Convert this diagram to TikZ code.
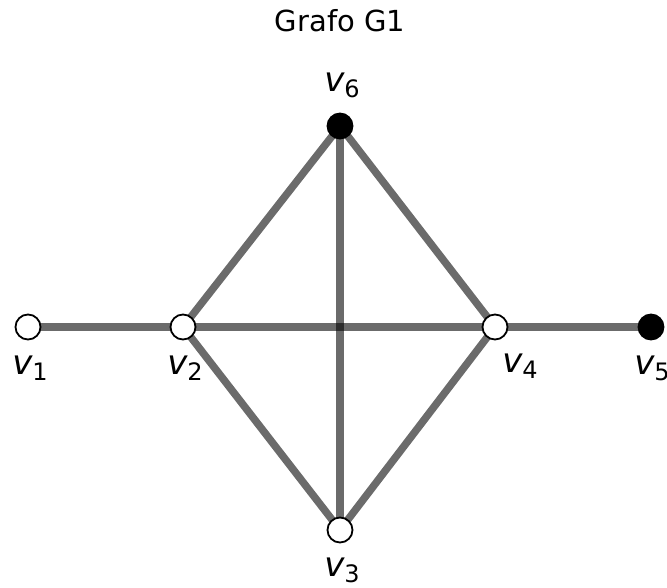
\documentclass[tikz,border=0pt]{standalone}
\usepackage{fontspec}
\setmainfont{DejaVu Sans}
\newcommand{\vlab}[1]{{\fontsize{34}{40}\selectfont\itshape v}\raisebox{-6pt}{\fontsize{24}{28}\selectfont #1}}
\begin{document}
\begin{tikzpicture}[x=1pt,y=-1pt,
  vert/.style={circle,draw=black,line width=1.8pt,minimum size=25pt,inner sep=0pt},
  wv/.style={vert,fill=white},
  bv/.style={vert,fill=black},
  edge/.style={draw=black,draw opacity=0.58,line width=7.5pt},
  lbl/.style={inner sep=0pt,anchor=center}]
\useasboundingbox (0,0) rectangle (667,588);
\node[lbl] (title) at (340,21) {\fontsize{29}{34}\selectfont Grafo G1};
\coordinate (p1) at (28,327);
\coordinate (p2) at (183,327);
\coordinate (p3) at (340,530);
\coordinate (p4) at (495,327);
\coordinate (p5) at (651,327);
\coordinate (p6) at (340,126);
\draw[edge] (p1) -- (p2);
\draw[edge] (p2) -- (p4);
\draw[edge] (p4) -- (p5);
\draw[edge] (p2) -- (p6);
\draw[edge] (p6) -- (p4);
\draw[edge] (p2) -- (p3);
\draw[edge] (p3) -- (p4);
\draw[edge] (p6) -- (p3);
\node[wv] (v1) at (p1) {};
\node[wv] (v2) at (p2) {};
\node[wv] (v3) at (p3) {};
\node[wv] (v4) at (p4) {};
\node[bv] (v5) at (p5) {};
\node[bv] (v6) at (p6) {};
\node[lbl] (l1) at (30,368) {\vlab{1}};
\node[lbl] (l2) at (185,368) {\vlab{2}};
\node[lbl] (l3) at (342,570) {\vlab{3}};
\node[lbl] (l4) at (520,366) {\vlab{4}};
\node[lbl] (l5) at (652,368) {\vlab{5}};
\node[lbl] (l6) at (342,85) {\vlab{6}};
\end{tikzpicture}
\end{document}
